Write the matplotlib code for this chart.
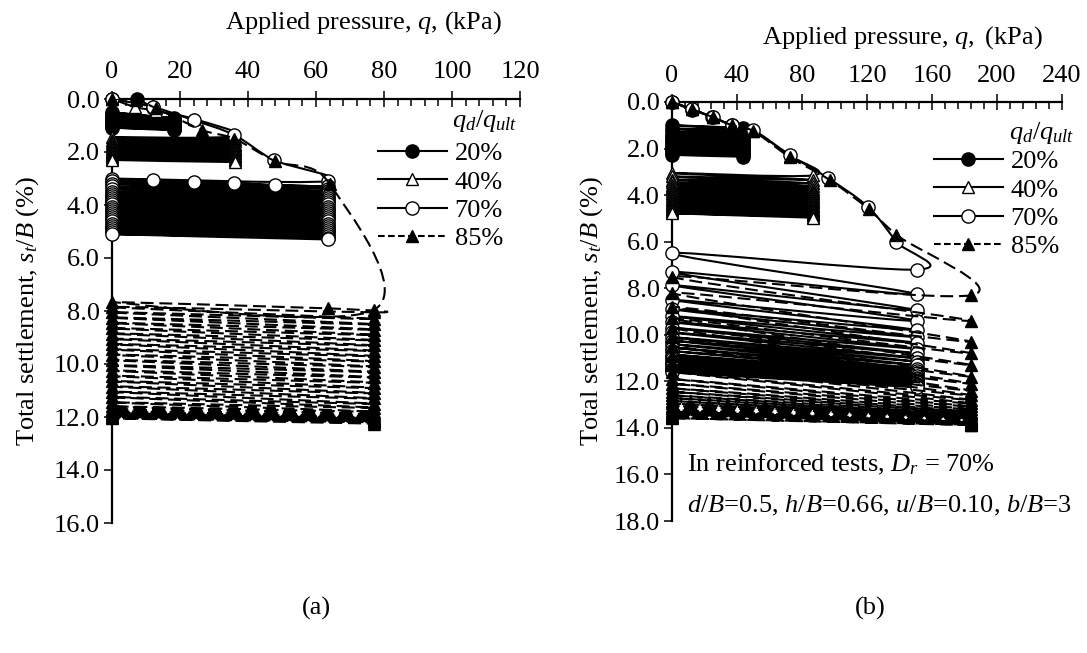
import numpy as np
import matplotlib
matplotlib.use("Agg")
import matplotlib.pyplot as plt
from matplotlib.path import Path
from matplotlib.patches import PathPatch
from matplotlib.lines import Line2D
from matplotlib.ticker import MultipleLocator, FormatStrFormatter

plt.rcParams['font.family'] = ['Liberation Serif', 'DejaVu Serif']
plt.rcParams['mathtext.fontset'] = 'custom'
plt.rcParams['mathtext.rm'] = 'Liberation Serif'
plt.rcParams['mathtext.it'] = 'Liberation Serif:italic'
plt.rcParams['mathtext.bf'] = 'Liberation Serif:bold'

FS = 19

# ---------------- Panel (a) data ----------------
a20_pre_q = [0, 7.3, 12, 18.1]
a20_pre_s = [0, 0.0, 0.35, 0.7]
a20_lo = [0.50, 0.58, 0.65, 0.71, 0.76, 0.81, 0.86, 0.90, 0.94, 0.98, 1.02, 1.05, 1.08]
a20_hi = [0.74, 0.79, 0.84, 0.88, 0.92, 0.96, 1.00, 1.03, 1.06, 1.09, 1.12, 1.15, 1.18]

a40_pre_q = [0, 6.8, 13, 24, 36.2]
a40_pre_s = [0, 0.3, 0.45, 0.75, 1.4]
a40_lo = [1.45, 1.55, 1.63, 1.70, 1.77, 1.83, 1.89, 1.95, 2.00, 2.05, 2.10, 2.15, 2.20, 2.25, 2.30]
a40_hi = [1.50, 1.60, 1.68, 1.75, 1.82, 1.88, 1.94, 2.00, 2.05, 2.10, 2.15, 2.20, 2.25, 2.30, 2.38]

a70_pre_q = [0, 12, 24, 36, 47.5, 63.4, 0, 12, 24, 36, 48, 63.4]
a70_pre_s = [0, 0.3, 0.8, 1.36, 2.3, 3.1, 3.0, 3.06, 3.13, 3.17, 3.25, 3.3]
a70_lo = [3.10, 3.20, 3.30, 3.40, 3.50, 3.58, 3.66, 3.74, 3.82, 3.90, 3.98, 4.06, 4.14,
          4.22, 4.30, 4.38, 4.46, 4.54, 4.62, 4.70, 4.78, 4.86, 4.94, 5.02, 5.10]
a70_hi = [3.38, 3.48, 3.56, 3.65, 3.74, 3.82, 3.90, 3.98, 4.06, 4.14, 4.22, 4.30, 4.38,
          4.46, 4.54, 4.62, 4.70, 4.78, 4.86, 4.94, 5.02, 5.10, 5.18, 5.24, 5.30]

a85_pre_q = [0, 7, 13, 26.5, 36, 48, 64, 77, 0, 63.5, 77]
a85_pre_s = [0, 0.05, 0.35, 1.17, 1.5, 2.35, 3.2, 7.96, 7.66, 7.9, 8.05]
a85_lo = [7.85, 8.05, 8.25, 8.45, 8.65, 8.85, 9.05, 9.25, 9.45, 9.65, 9.85, 10.05, 10.25,
          10.45, 10.65, 10.85, 11.05, 11.25, 11.45, 11.60, 11.70, 11.78, 11.85, 11.90,
          11.95, 12.00, 12.05]
a85_hi = [8.30, 8.50, 8.70, 8.90, 9.10, 9.30, 9.50, 9.70, 9.90, 10.10, 10.30, 10.50, 10.70,
          10.90, 11.10, 11.30, 11.50, 11.65, 11.80, 11.90, 11.97, 12.03, 12.08, 12.12,
          12.16, 12.20, 12.25]

# ---------------- Panel (b) data ----------------
b20_pre_q = [0, 12.3, 24.6, 37, 43.6]
b20_pre_s = [0, 0.34, 0.64, 1.0, 1.1]
b20_lo = [1.00, 1.15, 1.28, 1.40, 1.50, 1.60, 1.68, 1.76, 1.83, 1.90, 1.97, 2.03, 2.09, 2.15, 2.21, 2.27]
b20_hi = [1.15, 1.28, 1.40, 1.50, 1.60, 1.68, 1.76, 1.83, 1.90, 1.97, 2.03, 2.09, 2.15, 2.21, 2.27, 2.35]

b40_pre_q = [0, 12, 25, 37, 50, 72.5, 87]
b40_pre_s = [0, 0.3, 0.65, 1.0, 1.25, 2.3, 3.15]
b40_lo = [3.05, 3.20, 3.33, 3.45, 3.56, 3.66, 3.75, 3.84, 3.92, 4.00, 4.08, 4.15, 4.22,
          4.29, 4.36, 4.42, 4.48, 4.54, 4.60, 4.66, 4.72, 4.78]
b40_hi = [3.35, 3.50, 3.62, 3.73, 3.83, 3.92, 4.00, 4.08, 4.16, 4.24, 4.31, 4.38, 4.45,
          4.52, 4.58, 4.64, 4.70, 4.76, 4.82, 4.87, 4.92, 4.97]

b70_pre_q = [0, 12, 25, 37, 50, 72.5, 96, 120.5, 138, 150.6]
b70_pre_s = [0, 0.3, 0.65, 1.0, 1.2, 2.28, 3.27, 4.5, 6.0, 7.2]
b70_lo = [6.50, 7.30, 7.87, 8.50, 8.90, 9.20, 9.45, 9.70, 9.90, 10.10, 10.25, 10.40, 10.55,
          10.70, 10.85, 10.95, 11.05, 11.15, 11.25, 11.35, 11.45, 11.52, 11.60]
b70_hi = [8.26, 8.95, 9.40, 9.80, 10.10, 10.35, 10.60, 10.80, 11.00, 11.15, 11.30, 11.45,
          11.55, 11.65, 11.75, 11.85, 11.92, 11.98, 12.04, 12.10, 12.15, 12.20, 12.26]

b85_pre_q = [0, 12, 25, 37, 50, 72.5, 97, 121, 138, 184]
b85_pre_s = [0, 0.3, 0.65, 1.0, 1.25, 2.37, 3.35, 4.6, 5.7, 8.3]
b85_lo = [7.5, 8.2, 8.8, 9.3, 9.7, 10.1, 10.5, 10.9, 11.3, 11.6, 11.9, 12.1, 12.3, 12.45,
          12.6, 12.72, 12.84, 12.95, 13.05, 13.15, 13.23, 13.3, 13.37, 13.43, 13.49,
          13.54, 13.58]
b85_hi = [9.4, 10.3, 10.8, 11.3, 11.8, 12.1, 12.4, 12.6, 12.8, 12.95, 13.08, 13.2, 13.3,
          13.38, 13.46, 13.52, 13.58, 13.63, 13.67, 13.71, 13.74, 13.77, 13.8, 13.82,
          13.84, 13.86, 13.88]

labels = ['20%', '40%', '70%', '85%']


def build(pre_q, pre_s, lo, hi, qd):
    q = list(pre_q)
    s = list(pre_s)
    for l, h in zip(lo, hi):
        q += [0, qd]
        s += [l, h]
    return np.array(q, float), np.array(s, float)


def smooth_path(q, s):
    pts = np.column_stack([q, s])
    n = len(pts)
    verts = [pts[0]]
    codes = [Path.MOVETO]
    for i in range(n - 1):
        p0 = pts[i - 1] if i > 0 else pts[i]
        p1 = pts[i]
        p2 = pts[i + 1]
        p3 = pts[i + 2] if i + 2 < n else pts[i + 1]
        verts += [p1 + (p2 - p0) / 6.0, p2 - (p3 - p1) / 6.0, p2]
        codes += [Path.CURVE4] * 3
    return Path(np.array(verts), codes)


STYLES = {
    '20%': dict(marker='o', mfc='black', ls='-', ms=9.5),
    '40%': dict(marker='^', mfc='white', ls='-', ms=9.0),
    '70%': dict(marker='o', mfc='white', ls='-', ms=9.5),
    '85%': dict(marker='^', mfc='black', ls='--', ms=9.0),
}
LW = 1.5
DASH = (0, (6.2, 2.8))


def draw_series(ax, q, s, key, z):
    st = STYLES[key]
    ls = DASH if st['ls'] == '--' else '-'
    patch = PathPatch(smooth_path(q, s), fill=False, lw=LW, ls=ls,
                      edgecolor='black', zorder=z, capstyle='butt')
    ax.add_patch(patch)
    ax.plot(q, s, ls='none', marker=st['marker'], ms=st['ms'], mfc=st['mfc'],
            mec='black', mew=1.0, zorder=z + 0.5, clip_on=False)


def style_axes(ax, xmax, xmaj, xmin_, ymax, xpad):
    ax.set_xlim(0, xmax)
    ax.set_ylim(ymax, 0)
    ax.xaxis.tick_top()
    ax.xaxis.set_major_locator(MultipleLocator(xmaj))
    ax.xaxis.set_minor_locator(MultipleLocator(xmin_))
    ax.yaxis.set_major_locator(MultipleLocator(2))
    ax.yaxis.set_major_formatter(FormatStrFormatter('%.1f'))
    ax.tick_params(axis='x', which='major', direction='inout', length=11, width=1.1,
                   labelsize=FS, pad=xpad, top=True, bottom=False)
    ax.tick_params(axis='x', which='minor', direction='in', length=5, width=1.1,
                   top=True, bottom=False)
    ax.tick_params(axis='y', which='major', direction='out', length=6, width=1.1,
                   labelsize=FS, pad=3)
    for sp in ['right', 'bottom']:
        ax.spines[sp].set_visible(False)
    for sp in ['top', 'left']:
        ax.spines[sp].set_linewidth(1.6)


def add_legend(ax, anchor):
    handles = []
    for key in labels:
        st = STYLES[key]
        ls = (0, (3.2, 1.6)) if st['ls'] == '--' else '-'
        handles.append(Line2D([], [], color='black', lw=LW, ls=ls, marker=st['marker'],
                              ms=st['ms'], mfc=st['mfc'], mec='black', mew=1.0))
    leg = ax.legend(handles, labels, loc='upper left',
                    bbox_to_anchor=anchor, frameon=False, fontsize=FS,
                    handlelength=2.6, handletextpad=0.3,
                    labelspacing=0.18, borderpad=0, borderaxespad=0)
    return leg


W, H = 1087, 653
fig = plt.figure(figsize=(W / 100, H / 100), dpi=100)


def px_axes(l, t, r, b):
    return fig.add_axes([l / W, 1 - b / H, (r - l) / W, (b - t) / H])


axa = px_axes(112, 99, 520, 523)
axb = px_axes(672, 102, 1062, 521)

style_axes(axa, 120, 20, 4, 16, 6)
style_axes(axb, 240, 40, 8, 18, 5)

series_a = [
    ('20%', build(a20_pre_q, a20_pre_s, a20_lo, a20_hi, 18.1)),
    ('40%', build(a40_pre_q, a40_pre_s, a40_lo, a40_hi, 36.2)),
    ('70%', build(a70_pre_q, a70_pre_s, a70_lo, a70_hi, 63.4)),
    ('85%', build(a85_pre_q, a85_pre_s, a85_lo, a85_hi, 77)),
]
series_b = [
    ('20%', build(b20_pre_q, b20_pre_s, b20_lo, b20_hi, 43.6)),
    ('40%', build(b40_pre_q, b40_pre_s, b40_lo, b40_hi, 87)),
    ('70%', build(b70_pre_q, b70_pre_s, b70_lo, b70_hi, 150.6)),
    ('85%', build(b85_pre_q, b85_pre_s, b85_lo, b85_hi, 184)),
]
for ax, ser in [(axa, series_a), (axb, series_b)]:
    for i, (key, (q, s)) in enumerate(ser):
        draw_series(ax, q, s, key, 3 + i)

add_legend(axa, ((378 - 112) / 408, 1 - (142 - 99) / 424))
add_legend(axb, ((934 - 672) / 390, 1 - (150 - 102) / 419))

# legend titles
fig.text(452 / W, 1 - 121 / H, r'$q_d/q_{ult}$', ha='left', va='center', fontsize=FS)
fig.text(1009 / W, 1 - 133 / H, r'$q_d/q_{ult}$', ha='left', va='center', fontsize=FS)

# axis titles and labels
fig.text(363 / W, 1 - 23 / H, r'Applied pressure, $q$, (kPa)', ha='center', va='center', fontsize=FS)
fig.text(902 / W, 1 - 38 / H, r'Applied pressure, $q,$ (kPa)', ha='center', va='center', fontsize=FS)
fig.text(28 / W, 1 - 311 / H, r'Total settlement, $s_t/B$ (%)', ha='center', va='center',
         rotation=90, fontsize=FS)
fig.text(592 / W, 1 - 311 / H, r'Total settlement, $s_t/B$ (%)', ha='center', va='center',
         rotation=90, fontsize=FS)

axb.text((687 - 672) / 390, 1 - (471 - 102) / 419, r'In reinforced tests, $D_r$ = 70%',
         transform=axb.transAxes, fontsize=FS, ha='left', va='baseline')
axb.text((687 - 672) / 390, 1 - (512 - 102) / 419,
         r'$d/B$=0.5, $h/B$=0.66, $u/B$=0.10, $b/B$=3',
         transform=axb.transAxes, fontsize=FS, ha='left', va='baseline')

fig.text(316 / W, 1 - 608 / H, '(a)', ha='center', va='center', fontsize=FS)
fig.text(870 / W, 1 - 608 / H, '(b)', ha='center', va='center', fontsize=FS)

fig.savefig('out.png', dpi=100)
